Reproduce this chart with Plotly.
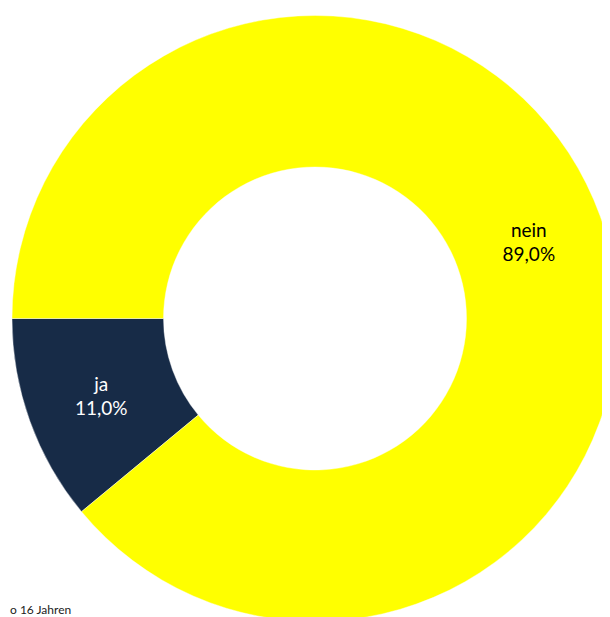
import plotly.graph_objects as go

labels = ['ja', 'nein']
values = [11.0, 89.0]
colors = ['#172B47', '#FFFF00']
text_colors = ['white', 'black']
footnote = 'o 16 Jahren'

fig = go.Figure(
    go.Pie(
        labels=labels,
        values=values,
        hole=0.5,
        sort=False,
        direction='clockwise',
        rotation=230.4,
        marker={'colors': colors, 'line': {'color': 'rgba(255,255,255,0.4)', 'width': 1}},
        texttemplate='%{label}<br>%{value:.1f}%',
        textposition='inside',
        insidetextorientation='horizontal',
        textfont={'family': 'Lato, Carlito, sans-serif', 'size': 19, 'color': text_colors},
        hoverinfo='label+percent',
    )
)

fig.add_annotation(
    text=footnote,
    xref='paper', yref='paper',
    x=0, y=0,
    xanchor='left', yanchor='bottom',
    xshift=-4, yshift=6,
    showarrow=False,
    font={'family': 'Lato, Carlito, sans-serif', 'size': 12, 'color': '#222222'},
)

fig.update_layout(
    width=610,
    height=617,
    margin={'l': 4, 't': 4, 'r': 0, 'b': 0},
    showlegend=False,
    separators=',.',
    paper_bgcolor='white',
    plot_bgcolor='white',
)

fig.write_html('out.html')
